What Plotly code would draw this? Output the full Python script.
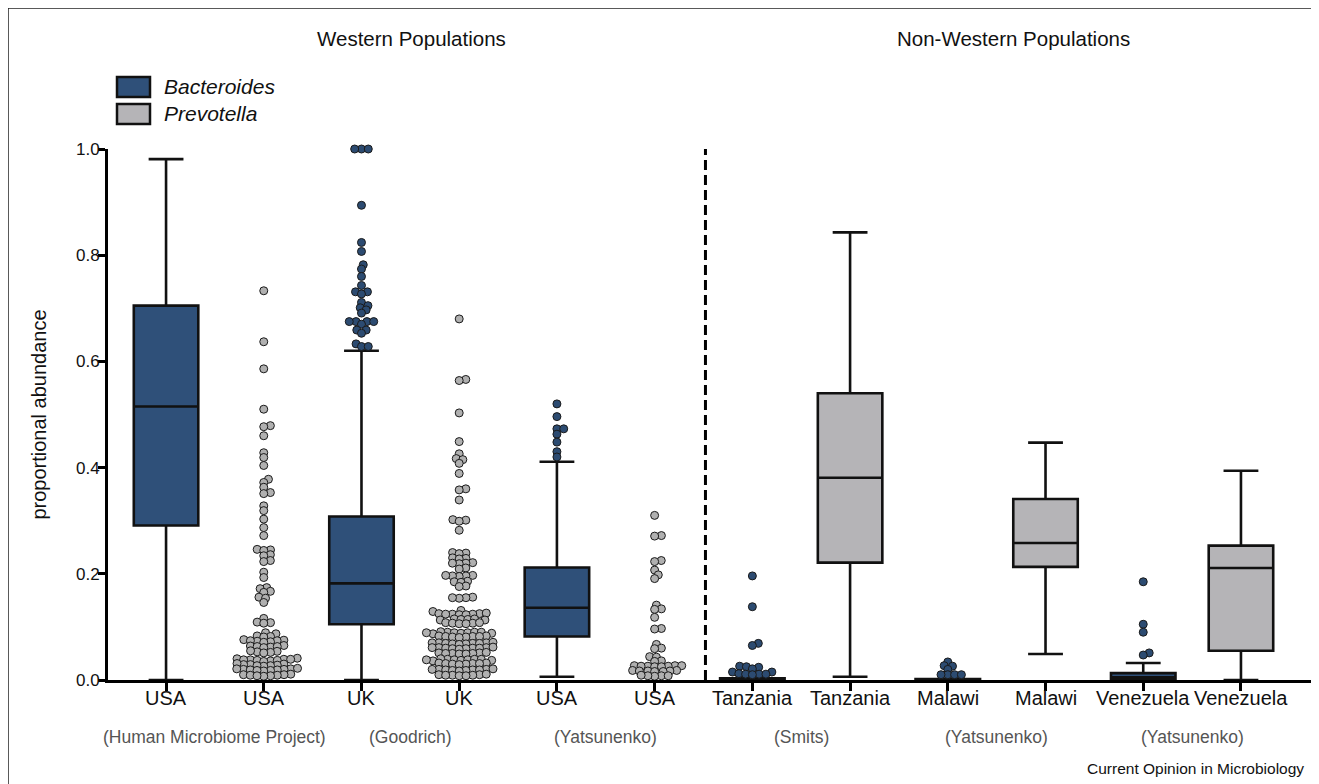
import plotly.graph_objects as go

# ---------------- data ----------------
categories = ["USA", "USA", "UK", "UK", "USA", "USA",
              "Tanzania", "Tanzania", "Malawi", "Malawi", "Venezuela", "Venezuela"]
studies = ["(Human Microbiome Project)", "(Goodrich)", "(Yatsunenko)",
           "(Smits)", "(Yatsunenko)", "(Yatsunenko)"]
groups = ["Western Populations", "Non-Western Populations"]
taxa = ["Bacteroides", "Prevotella"]

# box summaries: position, taxon, lowerfence, q1, median, q3, upperfence
box_pos = [1, 3, 5, 7, 8, 9, 10, 11, 12]
box_taxon = ["B", "B", "B", "B", "P", "B", "P", "B", "P"]
box_low = [0.0, 0.0, 0.006, 0.0, 0.006, 0.0, 0.049, 0.0, 0.0]
box_q1 = [0.291, 0.105, 0.082, 0.0, 0.221, 0.0, 0.213, 0.001, 0.055]
box_med = [0.515, 0.182, 0.136, 0.001, 0.381, 0.001, 0.258, 0.005, 0.211]
box_q3 = [0.705, 0.308, 0.212, 0.003, 0.540, 0.002, 0.341, 0.013, 0.253]
box_high = [0.981, 0.620, 0.411, 0.003, 0.843, 0.002, 0.447, 0.032, 0.394]

# individual points (outliers / all values)
hmp_prev = [
    0.733, 0.637, 0.586, 0.510, 0.479, 0.477, 0.460, 0.428, 0.419, 0.404,
    0.378, 0.372, 0.363, 0.353, 0.351, 0.328, 0.319, 0.303, 0.287, 0.272,
    0.246, 0.245, 0.244, 0.236, 0.234, 0.225, 0.223, 0.203, 0.193, 0.174,
    0.172, 0.167, 0.165, 0.156, 0.154, 0.146, 0.116, 0.109, 0.108, 0.107,
    0.089, 0.087, 0.083, 0.082, 0.081,
    0.076, 0.075, 0.074, 0.073, 0.072, 0.074, 0.071,
    0.064, 0.063, 0.062, 0.065, 0.061, 0.063,
    0.054, 0.053, 0.052, 0.055, 0.051,
    0.040, 0.039, 0.038, 0.037, 0.036, 0.041, 0.038, 0.035, 0.039, 0.037,
    0.030, 0.029, 0.028, 0.027, 0.026, 0.029, 0.031, 0.027,
    0.021, 0.020, 0.019, 0.018, 0.017, 0.020, 0.022, 0.019, 0.018, 0.021,
    0.011, 0.010, 0.009, 0.008, 0.007, 0.010, 0.009, 0.008,
]
uk_bact = [
    1.0, 1.0, 1.0, 0.894, 0.824, 0.807, 0.782, 0.774, 0.760, 0.743,
    0.731, 0.731, 0.727, 0.711, 0.705, 0.701, 0.697, 0.691, 0.675, 0.675,
    0.675, 0.675, 0.670, 0.659, 0.659, 0.653, 0.633, 0.628, 0.628,
]
uk_prev = [
    0.680, 0.566, 0.564, 0.503, 0.449, 0.426, 0.417, 0.415, 0.408, 0.389,
    0.360, 0.358, 0.339, 0.302, 0.301, 0.299, 0.282,
    0.240, 0.239, 0.238, 0.230, 0.229, 0.228, 0.221, 0.220, 0.219, 0.220, 0.211, 0.209,
    0.197, 0.196, 0.195, 0.196, 0.197, 0.186, 0.185, 0.184, 0.177, 0.176,
    0.156, 0.155, 0.154, 0.155,
    0.131, 0.129, 0.125, 0.124, 0.123, 0.124, 0.125, 0.123, 0.124, 0.126,
    0.115, 0.114, 0.113, 0.114, 0.115, 0.113,
    0.108, 0.107, 0.106, 0.107, 0.108, 0.106,
    0.090, 0.089, 0.088, 0.089, 0.090, 0.091, 0.088, 0.087, 0.089, 0.090,
    0.083, 0.082, 0.081, 0.082, 0.083, 0.081, 0.082, 0.080,
    0.070, 0.069, 0.068, 0.069, 0.070, 0.071, 0.068, 0.069, 0.067, 0.070,
    0.061, 0.060, 0.059, 0.060, 0.061, 0.062, 0.059, 0.058, 0.060, 0.061,
    0.051, 0.050, 0.049, 0.050, 0.051, 0.049, 0.052, 0.050,
    0.039, 0.038, 0.037, 0.038, 0.039, 0.040, 0.037, 0.036, 0.038, 0.039,
    0.032, 0.031, 0.030, 0.031, 0.032, 0.030, 0.031, 0.029,
    0.020, 0.019, 0.018, 0.019, 0.020, 0.021, 0.018, 0.017, 0.019, 0.020,
    0.010, 0.009, 0.008, 0.009, 0.010, 0.008, 0.011, 0.009,
]
yats_bact = [0.520, 0.496, 0.473, 0.473, 0.463, 0.448, 0.430, 0.420]
yats_prev = [
    0.310, 0.272, 0.271, 0.225, 0.223, 0.207, 0.198, 0.191, 0.141, 0.134,
    0.133, 0.118, 0.097, 0.096, 0.067, 0.060, 0.059, 0.044, 0.043, 0.036,
    0.035, 0.027, 0.026, 0.025, 0.026, 0.027, 0.025, 0.026, 0.027,
    0.018, 0.017, 0.016, 0.017, 0.018, 0.016, 0.017,
    0.008, 0.007, 0.008, 0.009, 0.008,
]
tanz_bact = [0.196, 0.138, 0.069, 0.065, 0.026, 0.025, 0.024, 0.021,
             0.015, 0.015, 0.012, 0.011, 0.011, 0.011, 0.010]
malawi_bact = [0.034, 0.027, 0.026, 0.020, 0.010, 0.010, 0.010, 0.010]
venez_bact = [0.185, 0.105, 0.090, 0.051, 0.047]

point_sets = [(2, "P", hmp_prev), (3, "B", uk_bact), (4, "P", uk_prev),
              (5, "B", yats_bact), (6, "P", yats_prev), (7, "B", tanz_bact),
              (9, "B", malawi_bact), (11, "B", venez_bact)]

# ---------------- style / geometry ----------------
BLUE = "#2F5079"
GREY = "#B5B4B7"
PBLUE = "#2C4B71"
PGREY = "#B0B0B0"
INK = "#111111"
FONT = "Liberation Sans, Arial, sans-serif"

OFF = 8                      # browser body margin
W, H = 1319 - OFF, 784 - OFF
X_RANGE = [0.406, 12.727]
PLOT_L, PLOT_R, PLOT_T, PLOT_B = 108, 1312, 149, 680   # page pixels
PX_PER_X = (PLOT_R - PLOT_L) / (X_RANGE[1] - X_RANGE[0])
PX_PER_Y = (PLOT_B - PLOT_T) / 1.0
MARK = 8
DH, DV = 6.8, 4.4           # horizontal / vertical collision spacing (px)


def swarm_offsets(vals):
    """Beeswarm layout (anisotropic collision), x offsets in data units."""
    k = DH / DV
    order = sorted(range(len(vals)), key=lambda i: vals[i])
    placed = []
    offs = [0.0] * len(vals)
    for i in order:
        y = vals[i] * PX_PER_Y * k
        cands = [0.0]
        for (px, py) in placed:
            dy = abs(py - y)
            if dy < DH:
                dx = (DH ** 2 - dy ** 2) ** 0.5
                cands += [px + dx, px - dx]
        cands.sort(key=lambda c: (round(abs(c), 6), -c))
        for c in cands:
            if all((c - px) ** 2 + (y - py) ** 2 >= DH ** 2 - 1e-6 for px, py in placed):
                placed.append((c, y))
                offs[i] = c / PX_PER_X
                break
    return offs


def px2paper_x(px):
    return (px - PLOT_L) / (PLOT_R - PLOT_L)


def px2paper_y(py):
    return (PLOT_B - py) / (PLOT_B - PLOT_T)


fig = go.Figure()

for p, t, lo, a, m, b, hi in zip(box_pos, box_taxon, box_low, box_q1, box_med, box_q3, box_high):
    fig.add_trace(go.Box(
        x=[p], q1=[a], median=[m], q3=[b], lowerfence=[lo], upperfence=[hi],
        fillcolor=BLUE if t == "B" else GREY,
        line=dict(color=INK, width=2.6),
        width=0.66, whiskerwidth=0.54, boxpoints=False,
        showlegend=False, hoverinfo="skip",
    ))

for p, t, vals in point_sets:
    offs = swarm_offsets(vals)
    fig.add_trace(go.Scatter(
        x=[p + o for o in offs], y=vals, mode="markers",
        marker=dict(size=MARK, color=PBLUE if t == "B" else PGREY,
                    line=dict(color="#1a1a1a", width=1)),
        cliponaxis=False, showlegend=False, hoverinfo="skip",
    ))

shapes = [
    dict(type="line", xref="x", yref="y", x0=6.52, x1=6.52, y0=0, y1=1.0,
         line=dict(color="black", width=3, dash="10px,5px")),
    dict(type="line", xref="paper", yref="paper",
         x0=px2paper_x(8), x1=px2paper_x(1340), y0=px2paper_y(8), y1=px2paper_y(8),
         line=dict(color="#222222", width=1.5)),
    dict(type="line", xref="paper", yref="paper",
         x0=px2paper_x(8), x1=px2paper_x(8), y0=px2paper_y(8), y1=px2paper_y(800),
         line=dict(color="#222222", width=1.5)),
    dict(type="rect", xref="paper", yref="paper",
         x0=px2paper_x(117), x1=px2paper_x(150), y0=px2paper_y(97), y1=px2paper_y(77),
         fillcolor=BLUE, line=dict(color=INK, width=2.5)),
    dict(type="rect", xref="paper", yref="paper",
         x0=px2paper_x(117), x1=px2paper_x(150), y0=px2paper_y(124), y1=px2paper_y(104),
         fillcolor=GREY, line=dict(color=INK, width=2.5)),
]


def ann(text, x, py, size, color=INK, xref="paper", xanchor="center"):
    return dict(text=text, x=x, y=px2paper_y(py), xref=xref, yref="paper",
                xanchor=xanchor, yanchor="middle", showarrow=False,
                font=dict(size=size, color=color, family=FONT))


annotations = [
    ann(groups[0], px2paper_x(411), 38, 20.5),
    ann(groups[1], px2paper_x(1013), 38, 20.5),
    ann("<i>%s</i>" % taxa[0], px2paper_x(162), 87, 21, xanchor="left"),
    ann("<i>%s</i>" % taxa[1], px2paper_x(162), 114, 21, xanchor="left"),
    ann("Current Opinion in Microbiology", px2paper_x(1306), 768, 15.5, xanchor="right"),
]
for i, c in enumerate(categories):
    annotations.append(ann(c, i + 1, 698, 20, xref="x"))
for k, s in enumerate(studies):
    annotations.append(ann(s, 2 * k + 1.5, 737, 17.5, color="#555555", xref="x"))

fig.update_layout(
    width=W, height=H,
    margin=dict(l=PLOT_L - OFF, r=W - (PLOT_R - OFF), t=PLOT_T - OFF,
                b=H - (PLOT_B - OFF), pad=0),
    plot_bgcolor="white", paper_bgcolor="white",
    boxmode="overlay", showlegend=False,
    shapes=shapes, annotations=annotations,
    xaxis=dict(range=X_RANGE, tickmode="array", tickvals=list(range(1, 13)),
               showticklabels=False, showgrid=False, zeroline=False,
               showline=True, linecolor="black", linewidth=3,
               ticks="outside", ticklen=8, tickwidth=2.5, tickcolor="black"),
    yaxis=dict(range=[0, 1.0], tickmode="array", tickvals=[0, 0.2, 0.4, 0.6, 0.8, 1.0],
               ticktext=["0.0", "0.2", "0.4", "0.6", "0.8", "1.0"],
               showgrid=False, zeroline=False, showline=True, linecolor="black",
               linewidth=3, ticks="outside", ticklen=7, tickwidth=2.5, tickcolor="black",
               ticklabelstandoff=-5,
               tickfont=dict(size=17, color=INK, family=FONT),
               title=dict(text="proportional abundance", standoff=24,
                          font=dict(size=20, color=INK, family=FONT))),
)

fig.write_html("out.html")
